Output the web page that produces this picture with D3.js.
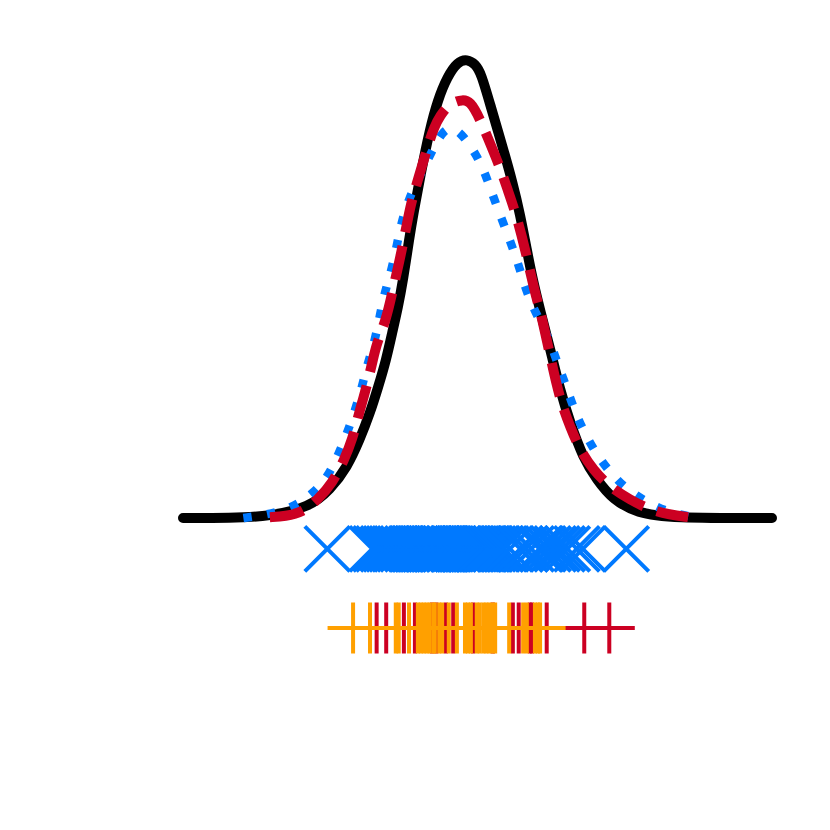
<!DOCTYPE html>
<html><head><meta charset="utf-8">
<script src="https://d3js.org/d3.v7.min.js"></script>
<style>html,body{margin:0;padding:0;background:#fff}</style>
</head><body>
<svg id="chart" width="830" height="830"></svg>
<script>
// black solid density
const blackX = [-4.00,-3.36,-2.82,-2.28,-2.00,-1.77,-1.60,-1.46,-1.35,-1.24,-1.16,-1.08,-1.01,-0.93,-0.87,-0.77,-0.65,-0.54,-0.41,-0.27,-0.14,-0.03,0.05,0.18,0.34,0.48,0.58,0.67,0.75,0.86,0.99,1.12,1.26,1.43,1.62,1.84,2.17,2.62,4.00];
const blackY = [0,0,0.002,0.013,0.034,0.061,0.094,0.126,0.157,0.190,0.222,0.253,0.286,0.334,0.366,0.414,0.466,0.502,0.530,0.548,0.551,0.545,0.534,0.494,0.446,0.402,0.364,0.322,0.286,0.246,0.202,0.154,0.114,0.073,0.046,0.022,0.006,0,0];
// red dashed density
const redX = [-2.82,-2.61,-2.37,-2.17,-1.97,-1.81,-1.70,-1.61,-1.53,-1.43,-1.37,-1.24,-1.15,-1.04,-0.94,-0.89,-0.81,-0.69,-0.59,-0.50,-0.41,-0.31,-0.21,-0.10,0.03,0.18,0.31,0.41,0.52,0.65,0.78,0.85,0.94,1.08,1.16,1.26,1.39,1.57,1.80,2.07,2.34,2.61,2.86];
const redY = [0.001,0.002,0.007,0.022,0.042,0.070,0.094,0.126,0.150,0.186,0.210,0.238,0.274,0.316,0.362,0.382,0.406,0.442,0.470,0.484,0.494,0.500,0.502,0.501,0.480,0.448,0.420,0.394,0.366,0.322,0.270,0.250,0.214,0.157,0.133,0.109,0.082,0.058,0.037,0.022,0.010,0.004,0.001];
// blue dotted density
const blueX = [-3.18,-2.86,-2.52,-2.25,-2.04,-1.89,-1.77,-1.66,-1.57,-1.49,-1.39,-1.32,-1.26,-1.16,-1.09,-1.04,-0.94,-0.78,-0.62,-0.48,-0.35,-0.20,-0.01,0.13,0.24,0.44,0.58,0.67,0.82,0.98,1.08,1.19,1.30,1.43,1.60,1.77,2.00,2.30,2.59,2.93];
const blueY = [0,0.004,0.012,0.028,0.048,0.076,0.102,0.130,0.157,0.186,0.214,0.246,0.271,0.300,0.330,0.352,0.382,0.412,0.440,0.464,0.470,0.460,0.436,0.408,0.379,0.334,0.298,0.270,0.241,0.214,0.187,0.162,0.133,0.106,0.079,0.058,0.036,0.019,0.007,0.001];
// blue sample (x markers)
const blueSample = [-2.04,-1.43,-1.38,-1.34,-1.28,-1.24,-1.20,-1.16,-1.12,-1.09,-1.05,-1.01,-0.95,-0.90,-0.88,-0.84,-0.81,-0.78,-0.75,-0.73,-0.70,-0.67,-0.65,-0.62,-0.59,-0.56,-0.54,-0.51,-0.48,-0.46,-0.43,-0.39,-0.33,-0.27,-0.24,-0.21,-0.18,-0.16,-0.13,-0.10,-0.08,-0.05,-0.02,0.01,0.03,0.06,0.09,0.12,0.14,0.17,0.21,0.25,0.31,0.36,0.44,0.58,0.65,0.73,0.84,0.89,0.96,1.03,1.08,1.15,1.22,1.35,1.43,2.02];
// orange sample (+ markers)
const orangeSample = [-1.69,-1.46,-1.11,-1.07,-0.93,-0.81,-0.77,-0.73,-0.69,-0.65,-0.60,-0.58,-0.52,-0.48,-0.39,-0.28,-0.17,-0.13,-0.09,-0.01,0.03,0.08,0.12,0.16,0.20,0.24,0.43,0.62,0.67,0.78,0.82,0.85];
// red sample (+ markers)
const redSample = [-1.37,-1.24,-1.00,-0.85,-0.62,-0.56,-0.43,-0.33,-0.06,0.21,0.48,0.56,0.71,0.74,0.94,1.45,1.79];
const rowX = -0.037, rowPlus = -0.132;

const svg = d3.select("#chart");
const x = d3.scaleLinear().domain([-4, 4]).range([183, 772]);
const y = d3.scaleLinear().domain([0, 0.55]).range([518, 60]);

const line = d3.line().x(d => x(d[0])).y(d => y(d[1])).curve(d3.curveBasis);
function pts(xs, ys){ return xs.map((v,i)=>[v, ys[i]]); }

svg.append("path").attr("d", line(pts(blackX, blackY)))
  .attr("fill","none").attr("stroke","#000").attr("stroke-width",10)
  .attr("stroke-linecap","round").attr("stroke-linejoin","round");
svg.append("path").attr("d", line(pts(blueX, blueY)))
  .attr("fill","none").attr("stroke","#0079FF").attr("stroke-width",8.5)
  .attr("stroke-dasharray","8.5,15.5").attr("stroke-linecap","butt");
svg.append("path").attr("d", line(pts(redX, redY)))
  .attr("fill","none").attr("stroke","#CC0022").attr("stroke-width",10)
  .attr("stroke-dasharray","34,14").attr("stroke-linecap","butt");

// X markers
const hx = 22.5;
svg.append("g").selectAll("path").data(blueSample).join("path")
  .attr("d", d => { const cx = x(d), cy = y(rowX);
    return `M${cx-hx},${cy-hx}L${cx+hx},${cy+hx}M${cx-hx},${cy+hx}L${cx+hx},${cy-hx}`; })
  .attr("fill","none").attr("stroke","#0079FF").attr("stroke-width",4);

// + markers
const hp = 25.5;
function plus(sel, data, color){
  sel.append("g").selectAll("path").data(data).join("path")
    .attr("d", d => { const cx = x(d), cy = y(rowPlus);
      return `M${cx-hp},${cy}L${cx+hp},${cy}M${cx},${cy-hp}L${cx},${cy+hp}`; })
    .attr("fill","none").attr("stroke",color).attr("stroke-width",4);
}
plus(svg, redSample, "#CC0022");
plus(svg, orangeSample, "#FFA000");
</script>
</body></html>
